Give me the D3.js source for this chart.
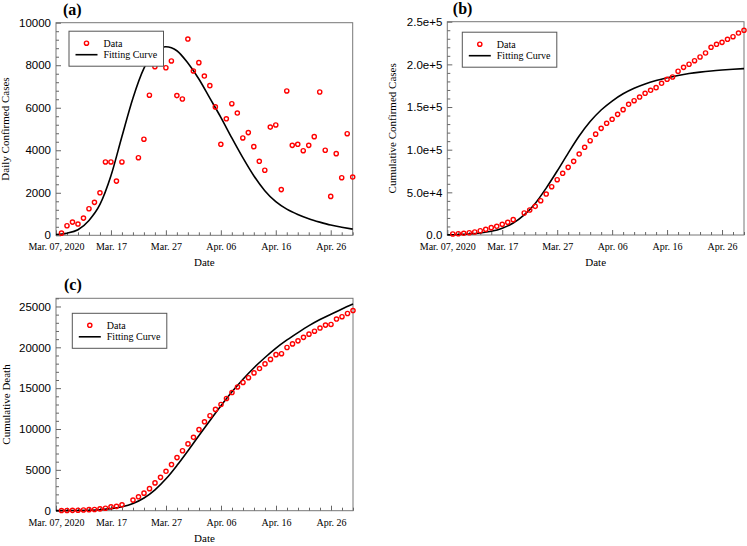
<!DOCTYPE html>
<html>
<head>
<meta charset="utf-8">
<script src="https://cdn.jsdelivr.net/npm/d3@7"></script>
<style>
  body { margin: 0; background: #fff; }
  svg { display: block; }
  .y.axis text { font-family: "Liberation Sans", Arial, sans-serif; font-size: 11.5px; fill: #000; }
  .x.axis text { font-family: "Liberation Serif", "Times New Roman", serif; font-size: 10px; fill: #000; }
  .axis line { stroke: #666; }
  .title { font-family: "Liberation Serif", "Times New Roman", serif; font-size: 11px; fill: #000; }
  .panel-label { font-family: "Liberation Serif", "Times New Roman", serif; font-size: 16px; font-weight: bold; fill: #000; }
  .legend text { font-family: "Liberation Serif", "Times New Roman", serif; font-size: 10px; fill: #000; }
</style>
</head>
<body>
<div id="chart"></div>
<script>
// x axis: days after Mar 07, 2020
const startDate = new Date(2020, 2, 7);
const xTickDays = [0, 10, 20, 30, 40, 50];
const xTickLabels = ['Mar. 07, 2020', 'Mar. 17', 'Mar. 27', 'Apr. 06', 'Apr. 16', 'Apr. 26'];
const xMinorDays = [2, 4, 6, 8, 12, 14, 16, 18, 22, 24, 26, 28, 32, 34, 36, 38, 42, 44, 46, 48, 52, 54];

// observed data, day 1 .. day 54 (null = no marker)
const dailyCases = [100, 450, 620, 530, 810, 1250, 1550, 2000, 3450, 3450,
  2550, 3450, null, null, 3650, 4520, 6590, 7930, null, 7880,
  8200, 6570, 6410, 9230, 7730, 8120, 7490, 7040, 6040, 4280,
  5480, 6190, 5750, 4580, 4830, 4170, 3480, 3060, 5090, 5190,
  2150, 6790, 4230, 4280, 3980, 4230, 4640, 6740, 4000, 1830,
  3840, 2710, 4780, 2740];

const cumulativeCases = [1170, 1500, 2000, 2700, 3500, 5000, 6600, 8600, 10200, 12500,
  14800, 18000, null, 25800, 29300, 33600, 40200, 48000, 56600, 64800,
  72300, 79300, 86300, 94900, 102800, 110500, 118200, 125000, 130900, 135600,
  141400, 146900, 153200, 157400, 161700, 166100, 169600, 172700, 177800, 182500,
  185200, 191900, 196500, 200100, 204300, 208600, 213300, 220000, 223500, 225800,
  229400, 232400, 236700, 239900];

const cumulativeDeath = [17, 30, 40, 60, 90, 130, 150, 220, 300, 480,
  530, 720, null, 1300, 1700, 2150, 2700, 3400, 4080, 4820,
  5650, 6500, 7340, 8180, 8980, 9930, 10880, 11630, 12400, 13000,
  13740, 14470, 15150, 15700, 16280, 16870, 17400, 17970, 18520, 19100,
  19220, 19980, 20420, 20790, 21220, 21610, 21970, 22360, 22720, 22800,
  23460, 23750, 24140, 24500];

// fitting curves, sampled every second day
const fitDays = [0, 2, 4, 6, 8, 10, 12, 14, 16, 18, 20, 22, 24, 26,
  28, 30, 32, 34, 36, 38, 40, 42, 44, 46, 48, 50, 52, 54];
const fitDaily = [40, 100, 260, 700, 1450, 2800, 4650, 6450, 7850, 8620, 8870, 8680, 8100, 7350,
  6450, 5550, 4580, 3650, 2800, 2100, 1580, 1230, 980, 780, 620, 480, 380, 290];
const fitCumCases = [300, 600, 1200, 2300, 4300, 8000, 14000, 23500, 37000, 55000, 75000, 96000, 116000, 133000,
  146500, 157000, 165500, 172000, 177000, 181000, 184300, 187000, 189200, 190900, 192300, 193400, 194300, 195000];
const fitCumDeath = [10, 15, 30, 60, 120, 250, 480, 880, 1550, 2550, 3900, 5550, 7350, 9200,
  11050, 12850, 14550, 16100, 17500, 18750, 19900, 20900, 21800, 22650, 23400, 24050, 24700, 25300];

// y ticks
const yTicksA = [0, 2000, 4000, 6000, 8000, 10000];
const yTicksB = [0, 50000, 100000, 150000, 200000, 250000];
const yLabelsB = ['0.0', '5.0e+4', '1.0e+5', '1.5e+5', '2.0e+5', '2.5e+5'];
const yTicksC = [0, 5000, 10000, 15000, 20000, 25000];

const legendLabels = ['Data', 'Fitting Curve'];

const svg = d3.select('#chart').append('svg')
  .attr('width', 747)
  .attr('height', 546);

function dayDate(d) {
  return d3.timeDay.offset(startDate, d);
}

function drawPanel(p) {
  const xScale = d3.scaleTime()
    .domain([dayDate(0), dayDate(54)])
    .range([p.left, p.right]);
  const yScale = d3.scaleLinear()
    .domain([0, p.yMax])
    .range([p.bottom, p.top]);

  const g = svg.append('g');

  // frame
  g.append('rect')
    .attr('x', p.left)
    .attr('y', p.top)
    .attr('width', p.right - p.left)
    .attr('height', p.bottom - p.top)
    .attr('fill', 'none')
    .attr('stroke', '#777')
    .attr('stroke-width', 1);

  // minor ticks
  const xMinor = d3.axisBottom(xScale)
    .tickValues(xMinorDays.map(dayDate))
    .tickSize(-3).tickSizeOuter(0).tickFormat('');
  g.append('g').attr('class', 'x axis minor')
    .attr('transform', `translate(0,${p.bottom})`)
    .call(xMinor)
    .call((s) => s.select('.domain').remove());

  const yMinor = d3.axisLeft(yScale)
    .tickValues(d3.range(0, p.yMax + 1, p.yMinorStep).filter((v) => v % p.yMajorStep !== 0))
    .tickSize(-3).tickSizeOuter(0).tickFormat('');
  g.append('g').attr('class', 'y axis minor')
    .attr('transform', `translate(${p.left},0)`)
    .call(yMinor)
    .call((s) => s.select('.domain').remove());

  // major ticks
  const xAxis = d3.axisBottom(xScale)
    .tickValues(xTickDays.map(dayDate))
    .tickSize(-5).tickSizeOuter(0).tickPadding(8)
    .tickFormat((d, i) => xTickLabels[i]);
  g.append('g').attr('class', 'x axis')
    .attr('transform', `translate(0,${p.bottom})`)
    .call(xAxis)
    .call((s) => s.select('.domain').remove());

  const yAxis = d3.axisLeft(yScale)
    .tickValues(p.yTicks)
    .tickSize(-5).tickSizeOuter(0).tickPadding(5)
    .tickFormat((d, i) => (p.yLabels ? p.yLabels[i] : d3.format('d')(d)));
  g.append('g').attr('class', 'y axis')
    .attr('transform', `translate(${p.left},0)`)
    .call(yAxis)
    .call((s) => s.select('.domain').remove());

  // fitting curve
  const line = d3.line()
    .x((d) => xScale(dayDate(d.day)))
    .y((d) => yScale(d.value))
    .curve(d3.curveMonotoneX);
  g.append('path')
    .datum(fitDays.map((day, i) => ({ day, value: p.fit[i] })))
    .attr('d', line)
    .attr('fill', 'none')
    .attr('stroke', '#000')
    .attr('stroke-width', 1.6);

  // data markers
  const points = p.data
    .map((value, i) => ({ day: i + 1, value }))
    .filter((d) => d.value !== null);
  g.append('g').selectAll('circle')
    .data(points)
    .join('circle')
    .attr('cx', (d) => xScale(dayDate(d.day)))
    .attr('cy', (d) => yScale(d.value))
    .attr('r', 2.1)
    .attr('fill', 'none')
    .attr('stroke', '#ff0000')
    .attr('stroke-width', 1.4);

  // legend
  const lg = g.append('g').attr('class', 'legend')
    .attr('transform', `translate(${p.left + p.legendDx},${p.top + p.legendDy})`);
  lg.append('rect')
    .attr('width', 94.5).attr('height', 35)
    .attr('fill', '#fff').attr('stroke', '#555').attr('stroke-width', 1);
  lg.append('circle')
    .attr('cx', 17.5).attr('cy', 12)
    .attr('r', 2.1).attr('fill', 'none')
    .attr('stroke', '#ff0000').attr('stroke-width', 1.4);
  lg.append('line')
    .attr('x1', 6.5).attr('x2', 28.5).attr('y1', 23.5).attr('y2', 23.5)
    .attr('stroke', '#000').attr('stroke-width', 1.6);
  lg.selectAll('text')
    .data(legendLabels)
    .join('text')
    .attr('x', 34.5)
    .attr('y', (d, i) => 15.5 + i * 11.5)
    .text((d) => d);

  // titles
  g.append('text').attr('class', 'panel-label')
    .attr('x', p.left + p.labelDx).attr('y', p.top - 8)
    .text(p.label);
  g.append('text').attr('class', 'title')
    .attr('x', (p.left + p.right) / 2).attr('y', p.bottom + 31)
    .attr('text-anchor', 'middle')
    .text('Date');
  g.append('text').attr('class', 'title')
    .attr('transform', `translate(${p.yTitleX},${(p.top + p.bottom) / 2}) rotate(-90)`)
    .attr('text-anchor', 'middle')
    .text(p.yTitle);
}

drawPanel({
  label: '(a)', labelDx: 7,
  left: 56, right: 352.7, top: 22.7, bottom: 235.3,
  yMax: 10000, yMajorStep: 2000, yMinorStep: 400, yTicks: yTicksA,
  data: dailyCases, fit: fitDaily,
  yTitle: 'Daily Confirmed Cases', yTitleX: 9,
  legendDx: 13, legendDy: 8.5,
});

drawPanel({
  label: '(b)', labelDx: 5.5,
  left: 447.3, right: 744, top: 21.7, bottom: 235,
  yMax: 250000, yMajorStep: 50000, yMinorStep: 10000, yTicks: yTicksB, yLabels: yLabelsB,
  data: cumulativeCases, fit: fitCumCases,
  yTitle: 'Cumulative Confirmed Cases', yTitleX: 396,
  legendDx: 15, legendDy: 10.5,
});

drawPanel({
  label: '(c)', labelDx: 8,
  left: 56, right: 353, top: 298.3, bottom: 510.7,
  yMax: 26000, yMajorStep: 5000, yMinorStep: 1000, yTicks: yTicksC,
  data: cumulativeDeath, fit: fitCumDeath,
  yTitle: 'Cumulative Death', yTitleX: 10,
  legendDx: 16.3, legendDy: 15,
});
</script>
</body>
</html>
